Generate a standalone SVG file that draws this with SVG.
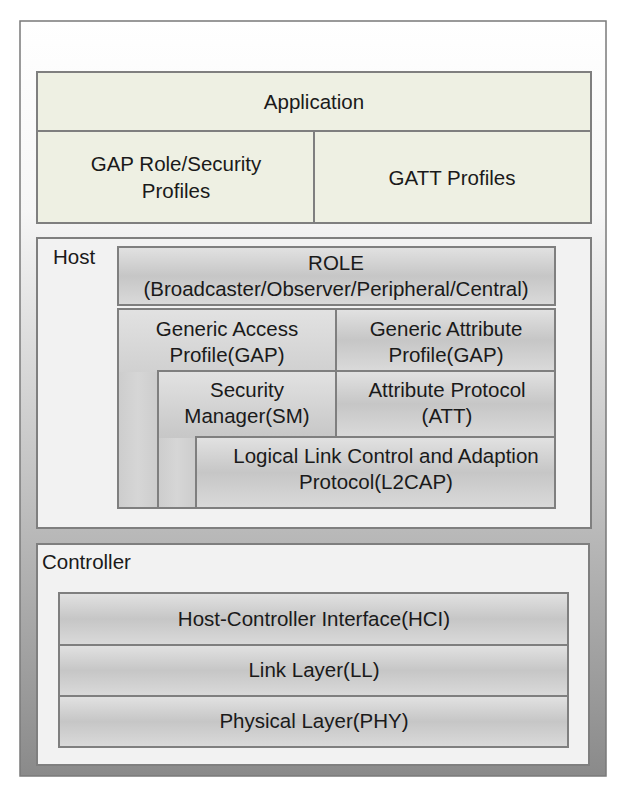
<svg xmlns="http://www.w3.org/2000/svg" width="631" height="797" viewBox="0 0 631 797">
<defs>
<linearGradient id="outerG" x1="0" y1="0" x2="0" y2="1">
<stop offset="0" stop-color="#ffffff"/>
<stop offset="0.25" stop-color="#f6f6f6"/>
<stop offset="0.6" stop-color="#c4c4c4"/>
<stop offset="1" stop-color="#8a8a8a"/>
</linearGradient>
<linearGradient id="grayG" x1="0" y1="0" x2="0" y2="1">
<stop offset="0" stop-color="#e2e2e2"/>
<stop offset="0.5" stop-color="#c6c6c6"/>
<stop offset="1" stop-color="#dadada"/>
</linearGradient>
<linearGradient id="colG" x1="0" y1="0" x2="1" y2="0">
<stop offset="0" stop-color="#cdcdcd"/>
<stop offset="0.5" stop-color="#d6d6d6"/>
<stop offset="1" stop-color="#cdcdcd"/>
</linearGradient>
</defs>
<style>
.box{stroke:#7f7f7f;stroke-width:2}
.app{fill:#eef0e3}
.gray{fill:url(#grayG)}
.panel{fill:#f2f2f2}
text{font-family:"Liberation Sans",Arial,sans-serif;font-size:20.5px;fill:#1a1a1a}
.c{text-anchor:middle}
</style>
<rect id="frame" x="20" y="21" width="586" height="755" fill="url(#outerG)" stroke="#7a7a7a" stroke-width="1.5"/>
<g id="application">
<rect class="box app" x="37" y="72" width="554" height="59"/>
<text class="c" x="314" y="109">Application</text>
</g>
<g id="gap-role">
<rect class="box app" x="37" y="131" width="277" height="92"/>
<text class="c" x="176" y="171">GAP Role/Security</text>
<text class="c" x="176" y="198">Profiles</text>
</g>
<g id="gatt-profiles">
<rect class="box app" x="314" y="131" width="277" height="92"/>
<text class="c" x="452" y="185">GATT Profiles</text>
</g>
<g id="host">
<rect class="box panel" x="37" y="238" width="554" height="290"/>
<text x="53" y="264">Host</text>
</g>
<g id="role">
<rect class="box gray" x="118" y="247" width="437" height="58"/>
<text class="c" x="336" y="270">ROLE</text>
<text class="c" x="336" y="296">(Broadcaster/Observer/Peripheral/Central)</text>
</g>
<g id="gap">
<path class="box gray" d="M118,309 H336 V371 H158 V508 H118 Z"/>
<rect x="119" y="372" width="38" height="135" fill="url(#colG)"/>
<text class="c" x="227" y="336">Generic Access</text>
<text class="c" x="227" y="362">Profile(GAP)</text>
</g>
<g id="gatt">
<rect class="box gray" x="336" y="309" width="219" height="62"/>
<text class="c" x="446" y="336">Generic Attribute</text>
<text class="c" x="446" y="362">Profile(GAP)</text>
</g>
<g id="sm">
<path class="box gray" d="M158,371 H336 V437 H196 V508 H158 Z"/>
<rect x="159" y="438" width="36" height="69" fill="url(#colG)"/>
<text class="c" x="247" y="397">Security</text>
<text class="c" x="247" y="423">Manager(SM)</text>
</g>
<g id="att">
<rect class="box gray" x="336" y="371" width="219" height="66"/>
<text class="c" x="447" y="397">Attribute Protocol</text>
<text class="c" x="447" y="423">(ATT)</text>
</g>
<g id="l2cap">
<rect class="box gray" x="196" y="437" width="359" height="71"/>
<text class="c" x="386" y="463">Logical Link Control and Adaption</text>
<text class="c" x="376" y="489">Protocol(L2CAP)</text>
</g>
<g id="controller">
<rect class="box panel" x="37" y="544" width="552" height="221" stroke-width="1.5"/>
<text x="42" y="569">Controller</text>
</g>
<g id="hci">
<rect class="box gray" x="59" y="593" width="509" height="52"/>
<text class="c" x="314" y="626">Host-Controller Interface(HCI)</text>
</g>
<g id="ll">
<rect class="box gray" x="59" y="645" width="509" height="51"/>
<text class="c" x="314" y="677">Link Layer(LL)</text>
</g>
<g id="phy">
<rect class="box gray" x="59" y="696" width="509" height="51"/>
<text class="c" x="314" y="728">Physical Layer(PHY)</text>
</g>
<g id="connectors"/>
</svg>
